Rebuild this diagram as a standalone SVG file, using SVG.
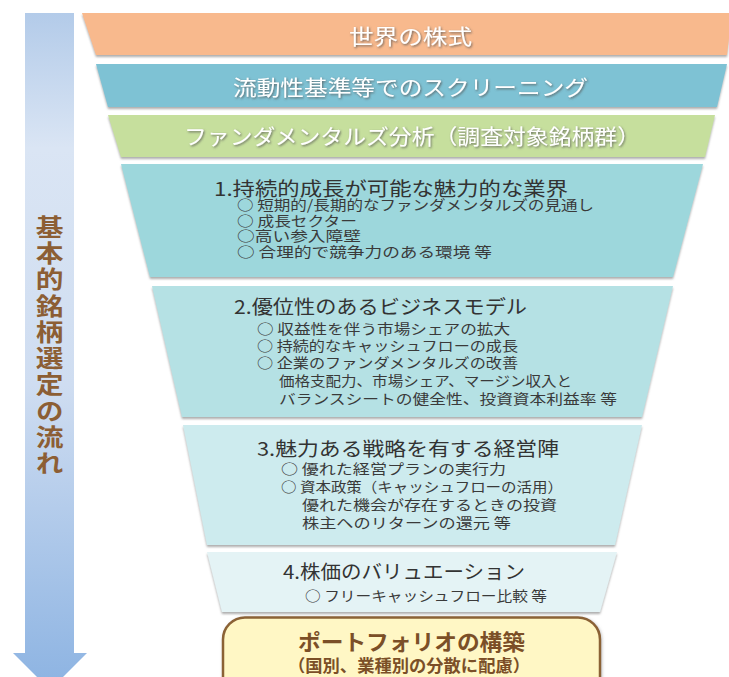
<svg xmlns="http://www.w3.org/2000/svg" width="729" height="677" viewBox="0 0 729 677">
<defs>
<linearGradient id="arrowGrad" gradientUnits="userSpaceOnUse" x1="0" y1="13" x2="0" y2="690">
<stop offset="0" stop-color="#b3cbe9"/>
<stop offset="0.2" stop-color="#dae5f4"/>
<stop offset="0.55" stop-color="#cfddf1"/>
<stop offset="1" stop-color="#8cb3e2"/>
</linearGradient>
<filter id="bandShadow" x="-5%" y="-10%" width="110%" height="130%">
<feDropShadow dx="0" dy="2" stdDeviation="1" flood-color="#777" flood-opacity="0.6"/>
</filter>
<filter id="textShadow" x="-5%" y="-20%" width="110%" height="160%">
<feDropShadow dx="1" dy="1.2" stdDeviation="0.8" flood-color="#555" flood-opacity="0.8"/>
</filter>
<filter id="boxShadow" x="-5%" y="-10%" width="110%" height="130%">
<feDropShadow dx="1" dy="1" stdDeviation="1.5" flood-color="#888" flood-opacity="0.5"/>
</filter>
</defs>
<style>
text { font-family: "Noto Sans CJK JP", "Noto Sans", sans-serif; dominant-baseline: central; }
.top { fill: #ffffff; font-size: 21px; filter: url(#textShadow); }
.body { fill: #3a3a3a; font-size: 14px; }
.title { fill: #333333; font-size: 19px; }
.vert { fill: #8c5e34; font-size: 23.5px; font-weight: bold; writing-mode: vertical-rl; letter-spacing: 2.8px; }
.port { fill: #7b4f27; font-weight: bold; }
.band { filter: url(#bandShadow); }
</style>
<rect width="729" height="677" fill="#ffffff"/>

<g id="flow-arrow">
<path d="M25,13 H74 V653 H87 L50,690 L13,653 H25 Z" fill="url(#arrowGrad)"/>
<g transform="translate(49.5 0) scale(1.18 1)">
<text class="vert" x="0" y="215">基本的銘柄選定の流れ</text>
</g>
</g>

<g id="world-stocks">
<polygon class="band" points="82,13 732,13 727,55 96,55" fill="#f8b98d"/>
<text class="top" x="349" y="35" textLength="123" lengthAdjust="spacingAndGlyphs">世界の株式</text>
</g>

<g id="screening">
<polygon class="band" points="96,64 727,64 717,107 108,107" fill="#7ec2d4"/>
<text class="top" x="233" y="86" textLength="355" lengthAdjust="spacingAndGlyphs">流動性基準等でのスクリーニング</text>
</g>

<g id="fundamental">
<polygon class="band" points="108,115 715,115 705,157 121,157" fill="#c6df9d"/>
<text class="top" x="184" y="135" textLength="456" lengthAdjust="spacingAndGlyphs">ファンダメンタルズ分析（調査対象銘柄群）</text>
</g>

<g id="step1">
<polygon class="band" points="121,164 703,164 673,277 150,277" fill="#9dd7dc"/>
<text class="body" lengthAdjust="spacingAndGlyphs">
<tspan class="title" x="214" y="186.5" textLength="354" lengthAdjust="spacingAndGlyphs">1.持続的成長が可能な魅力的な業界</tspan>
<tspan x="237" y="204" textLength="357" lengthAdjust="spacingAndGlyphs">○ 短期的/長期的なファンダメンタルズの見通し</tspan>
<tspan x="237" y="219.5" textLength="120" lengthAdjust="spacingAndGlyphs">○ 成長セクター</tspan>
<tspan x="237" y="235" textLength="124" lengthAdjust="spacingAndGlyphs">○高い参入障壁</tspan>
<tspan x="237" y="250.5" textLength="255" lengthAdjust="spacingAndGlyphs">○ 合理的で競争力のある環境 等</tspan>
</text>
</g>

<g id="step2">
<polygon class="band" points="152,286 673,286 642,417 182,417" fill="#b5e1e4"/>
<text class="body">
<tspan class="title" x="234" y="305" textLength="293" lengthAdjust="spacingAndGlyphs">2.優位性のあるビジネスモデル</tspan>
<tspan x="257" y="327.5" textLength="253" lengthAdjust="spacingAndGlyphs">○ 収益性を伴う市場シェアの拡大</tspan>
<tspan x="257" y="345" textLength="261" lengthAdjust="spacingAndGlyphs">○ 持続的なキャッシュフローの成長</tspan>
<tspan x="257" y="362" textLength="261" lengthAdjust="spacingAndGlyphs">○ 企業のファンダメンタルズの改善</tspan>
<tspan x="279" y="380" textLength="293" lengthAdjust="spacingAndGlyphs">価格支配力、市場シェア、マージン収入と</tspan>
<tspan x="279" y="397.5" textLength="338" lengthAdjust="spacingAndGlyphs">バランスシートの健全性、投資資本利益率 等</tspan>
</text>
</g>

<g id="step3">
<polygon class="band" points="183,425 642,425 615,545 207,545" fill="#cdebee"/>
<text class="body">
<tspan class="title" x="257" y="447" textLength="302" lengthAdjust="spacingAndGlyphs">3.魅力ある戦略を有する経営陣</tspan>
<tspan x="281" y="467.5" textLength="225" lengthAdjust="spacingAndGlyphs">○ 優れた経営プランの実行力</tspan>
<tspan x="281" y="486" textLength="282" lengthAdjust="spacingAndGlyphs">○ 資本政策（キャッシュフローの活用）</tspan>
<tspan x="302" y="503.5" textLength="255" lengthAdjust="spacingAndGlyphs">優れた機会が存在するときの投資</tspan>
<tspan x="302" y="521.5" textLength="209" lengthAdjust="spacingAndGlyphs">株主へのリターンの還元 等</tspan>
</text>
</g>

<g id="step4">
<polygon class="band" points="207,552 617,552 600,612 222,612" fill="#e4f3f5"/>
<text class="body">
<tspan class="title" x="283" y="570" textLength="242" lengthAdjust="spacingAndGlyphs">4.株価のバリュエーション</tspan>
<tspan x="305" y="594.5" textLength="242" lengthAdjust="spacingAndGlyphs">○ フリーキャッシュフロー比較 等</tspan>
</text>
</g>

<g id="portfolio">
<rect x="223" y="617.5" width="377" height="90" rx="22" ry="22" fill="#fff7c5" stroke="#8b6236" stroke-width="2.5" filter="url(#boxShadow)"/>
<text class="port">
<tspan x="298" y="640" font-size="22" textLength="227" lengthAdjust="spacingAndGlyphs">ポートフォリオの構築</tspan>
<tspan x="288" y="664" font-size="17" textLength="242" lengthAdjust="spacingAndGlyphs">（国別、業種別の分散に配慮）</tspan>
</text>
</g>

<g id="connectors"></g>
</svg>
